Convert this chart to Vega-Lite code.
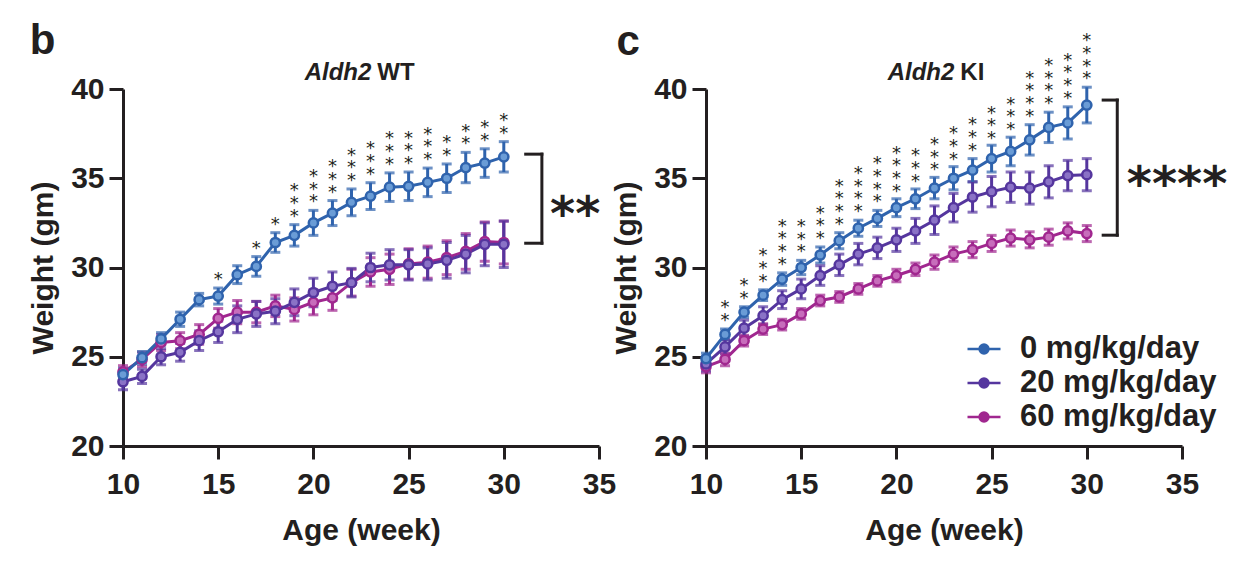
{
  "$schema": "https://vega.github.io/schema/vega-lite/v6.json",
  "padding": {"left": 28, "top": 20, "right": 5, "bottom": 5},
  "background": "white",
  "bounds": "flush",
  "spacing": 107,
  "config": {
    "view": {"stroke": null},
    "font": "Liberation Sans",
    "axis": {
      "grid": false,
      "domainColor": "#231f20",
      "domainWidth": 3,
      "tickColor": "#231f20",
      "tickWidth": 3,
      "labelFont": "Liberation Sans",
      "labelFontSize": 30,
      "labelFontWeight": "bold",
      "labelColor": "#231f20",
      "labelFlush": false,
      "titleFont": "Liberation Sans",
      "titleFontSize": 30,
      "titleFontWeight": "bold",
      "titleColor": "#231f20"
    },
    "axisX": {"tickSize": 13, "labelPadding": 10, "titlePadding": 16},
    "axisY": {"tickSize": 14, "labelPadding": 5, "titlePadding": 12}
  },
  "datasets": {
    "weights": [
      {"g":"WT","dose":"60 mg/kg/day","week":10,"mean":24.15,"sem":0.35},
      {"g":"WT","dose":"60 mg/kg/day","week":11,"mean":24.85,"sem":0.4},
      {"g":"WT","dose":"60 mg/kg/day","week":12,"mean":25.8,"sem":0.45},
      {"g":"WT","dose":"60 mg/kg/day","week":13,"mean":25.9,"sem":0.45},
      {"g":"WT","dose":"60 mg/kg/day","week":14,"mean":26.25,"sem":0.55},
      {"g":"WT","dose":"60 mg/kg/day","week":15,"mean":27.15,"sem":0.55},
      {"g":"WT","dose":"60 mg/kg/day","week":16,"mean":27.5,"sem":0.65},
      {"g":"WT","dose":"60 mg/kg/day","week":17,"mean":27.5,"sem":0.6},
      {"g":"WT","dose":"60 mg/kg/day","week":18,"mean":27.85,"sem":0.6},
      {"g":"WT","dose":"60 mg/kg/day","week":19,"mean":27.65,"sem":0.65},
      {"g":"WT","dose":"60 mg/kg/day","week":20,"mean":28.05,"sem":0.7},
      {"g":"WT","dose":"60 mg/kg/day","week":21,"mean":28.3,"sem":0.7},
      {"g":"WT","dose":"60 mg/kg/day","week":22,"mean":29.15,"sem":0.75},
      {"g":"WT","dose":"60 mg/kg/day","week":23,"mean":29.75,"sem":0.8},
      {"g":"WT","dose":"60 mg/kg/day","week":24,"mean":29.9,"sem":0.85},
      {"g":"WT","dose":"60 mg/kg/day","week":25,"mean":30.2,"sem":0.85},
      {"g":"WT","dose":"60 mg/kg/day","week":26,"mean":30.3,"sem":0.9},
      {"g":"WT","dose":"60 mg/kg/day","week":27,"mean":30.55,"sem":0.95},
      {"g":"WT","dose":"60 mg/kg/day","week":28,"mean":30.9,"sem":1.0},
      {"g":"WT","dose":"60 mg/kg/day","week":29,"mean":31.45,"sem":1.1},
      {"g":"WT","dose":"60 mg/kg/day","week":30,"mean":31.4,"sem":1.2},
      {"g":"WT","dose":"20 mg/kg/day","week":10,"mean":23.6,"sem":0.45},
      {"g":"WT","dose":"20 mg/kg/day","week":11,"mean":23.9,"sem":0.4},
      {"g":"WT","dose":"20 mg/kg/day","week":12,"mean":25.0,"sem":0.45},
      {"g":"WT","dose":"20 mg/kg/day","week":13,"mean":25.25,"sem":0.5},
      {"g":"WT","dose":"20 mg/kg/day","week":14,"mean":25.9,"sem":0.55},
      {"g":"WT","dose":"20 mg/kg/day","week":15,"mean":26.4,"sem":0.6},
      {"g":"WT","dose":"20 mg/kg/day","week":16,"mean":27.1,"sem":0.75},
      {"g":"WT","dose":"20 mg/kg/day","week":17,"mean":27.4,"sem":0.7},
      {"g":"WT","dose":"20 mg/kg/day","week":18,"mean":27.55,"sem":0.7},
      {"g":"WT","dose":"20 mg/kg/day","week":19,"mean":28.05,"sem":0.75},
      {"g":"WT","dose":"20 mg/kg/day","week":20,"mean":28.6,"sem":0.8},
      {"g":"WT","dose":"20 mg/kg/day","week":21,"mean":28.95,"sem":0.8},
      {"g":"WT","dose":"20 mg/kg/day","week":22,"mean":29.15,"sem":0.8},
      {"g":"WT","dose":"20 mg/kg/day","week":23,"mean":30.0,"sem":0.8},
      {"g":"WT","dose":"20 mg/kg/day","week":24,"mean":30.15,"sem":0.85},
      {"g":"WT","dose":"20 mg/kg/day","week":25,"mean":30.15,"sem":0.85},
      {"g":"WT","dose":"20 mg/kg/day","week":26,"mean":30.2,"sem":0.9},
      {"g":"WT","dose":"20 mg/kg/day","week":27,"mean":30.4,"sem":1.0},
      {"g":"WT","dose":"20 mg/kg/day","week":28,"mean":30.75,"sem":1.05},
      {"g":"WT","dose":"20 mg/kg/day","week":29,"mean":31.3,"sem":1.2},
      {"g":"WT","dose":"20 mg/kg/day","week":30,"mean":31.3,"sem":1.3},
      {"g":"WT","dose":"0 mg/kg/day","week":10,"mean":24.0,"sem":0.35},
      {"g":"WT","dose":"0 mg/kg/day","week":11,"mean":24.95,"sem":0.35},
      {"g":"WT","dose":"0 mg/kg/day","week":12,"mean":26.0,"sem":0.35},
      {"g":"WT","dose":"0 mg/kg/day","week":13,"mean":27.1,"sem":0.4},
      {"g":"WT","dose":"0 mg/kg/day","week":14,"mean":28.2,"sem":0.35},
      {"g":"WT","dose":"0 mg/kg/day","week":15,"mean":28.4,"sem":0.45},
      {"g":"WT","dose":"0 mg/kg/day","week":16,"mean":29.6,"sem":0.5},
      {"g":"WT","dose":"0 mg/kg/day","week":17,"mean":30.06,"sem":0.55},
      {"g":"WT","dose":"0 mg/kg/day","week":18,"mean":31.4,"sem":0.55},
      {"g":"WT","dose":"0 mg/kg/day","week":19,"mean":31.8,"sem":0.6},
      {"g":"WT","dose":"0 mg/kg/day","week":20,"mean":32.5,"sem":0.7},
      {"g":"WT","dose":"0 mg/kg/day","week":21,"mean":33.05,"sem":0.7},
      {"g":"WT","dose":"0 mg/kg/day","week":22,"mean":33.65,"sem":0.75},
      {"g":"WT","dose":"0 mg/kg/day","week":23,"mean":34.0,"sem":0.75},
      {"g":"WT","dose":"0 mg/kg/day","week":24,"mean":34.5,"sem":0.8},
      {"g":"WT","dose":"0 mg/kg/day","week":25,"mean":34.55,"sem":0.8},
      {"g":"WT","dose":"0 mg/kg/day","week":26,"mean":34.77,"sem":0.8},
      {"g":"WT","dose":"0 mg/kg/day","week":27,"mean":35.0,"sem":0.8},
      {"g":"WT","dose":"0 mg/kg/day","week":28,"mean":35.6,"sem":0.85},
      {"g":"WT","dose":"0 mg/kg/day","week":29,"mean":35.85,"sem":0.8},
      {"g":"WT","dose":"0 mg/kg/day","week":30,"mean":36.2,"sem":0.85},
      {"g":"KI","dose":"60 mg/kg/day","week":10,"mean":24.45,"sem":0.35},
      {"g":"KI","dose":"60 mg/kg/day","week":11,"mean":24.85,"sem":0.35},
      {"g":"KI","dose":"60 mg/kg/day","week":12,"mean":25.9,"sem":0.3},
      {"g":"KI","dose":"60 mg/kg/day","week":13,"mean":26.55,"sem":0.3},
      {"g":"KI","dose":"60 mg/kg/day","week":14,"mean":26.8,"sem":0.3},
      {"g":"KI","dose":"60 mg/kg/day","week":15,"mean":27.4,"sem":0.3},
      {"g":"KI","dose":"60 mg/kg/day","week":16,"mean":28.15,"sem":0.3},
      {"g":"KI","dose":"60 mg/kg/day","week":17,"mean":28.35,"sem":0.3},
      {"g":"KI","dose":"60 mg/kg/day","week":18,"mean":28.8,"sem":0.3},
      {"g":"KI","dose":"60 mg/kg/day","week":19,"mean":29.25,"sem":0.3},
      {"g":"KI","dose":"60 mg/kg/day","week":20,"mean":29.55,"sem":0.35},
      {"g":"KI","dose":"60 mg/kg/day","week":21,"mean":29.9,"sem":0.35},
      {"g":"KI","dose":"60 mg/kg/day","week":22,"mean":30.3,"sem":0.4},
      {"g":"KI","dose":"60 mg/kg/day","week":23,"mean":30.75,"sem":0.4},
      {"g":"KI","dose":"60 mg/kg/day","week":24,"mean":31.0,"sem":0.45},
      {"g":"KI","dose":"60 mg/kg/day","week":25,"mean":31.35,"sem":0.45},
      {"g":"KI","dose":"60 mg/kg/day","week":26,"mean":31.65,"sem":0.45},
      {"g":"KI","dose":"60 mg/kg/day","week":27,"mean":31.55,"sem":0.45},
      {"g":"KI","dose":"60 mg/kg/day","week":28,"mean":31.7,"sem":0.45},
      {"g":"KI","dose":"60 mg/kg/day","week":29,"mean":32.05,"sem":0.45},
      {"g":"KI","dose":"60 mg/kg/day","week":30,"mean":31.9,"sem":0.45},
      {"g":"KI","dose":"20 mg/kg/day","week":10,"mean":24.6,"sem":0.4},
      {"g":"KI","dose":"20 mg/kg/day","week":11,"mean":25.55,"sem":0.4},
      {"g":"KI","dose":"20 mg/kg/day","week":12,"mean":26.6,"sem":0.45},
      {"g":"KI","dose":"20 mg/kg/day","week":13,"mean":27.3,"sem":0.5},
      {"g":"KI","dose":"20 mg/kg/day","week":14,"mean":28.2,"sem":0.5},
      {"g":"KI","dose":"20 mg/kg/day","week":15,"mean":28.8,"sem":0.55},
      {"g":"KI","dose":"20 mg/kg/day","week":16,"mean":29.55,"sem":0.55},
      {"g":"KI","dose":"20 mg/kg/day","week":17,"mean":30.15,"sem":0.6},
      {"g":"KI","dose":"20 mg/kg/day","week":18,"mean":30.75,"sem":0.6},
      {"g":"KI","dose":"20 mg/kg/day","week":19,"mean":31.1,"sem":0.6},
      {"g":"KI","dose":"20 mg/kg/day","week":20,"mean":31.55,"sem":0.65},
      {"g":"KI","dose":"20 mg/kg/day","week":21,"mean":32.05,"sem":0.7},
      {"g":"KI","dose":"20 mg/kg/day","week":22,"mean":32.65,"sem":0.8},
      {"g":"KI","dose":"20 mg/kg/day","week":23,"mean":33.35,"sem":0.8},
      {"g":"KI","dose":"20 mg/kg/day","week":24,"mean":33.95,"sem":0.85},
      {"g":"KI","dose":"20 mg/kg/day","week":25,"mean":34.25,"sem":0.85},
      {"g":"KI","dose":"20 mg/kg/day","week":26,"mean":34.5,"sem":0.85},
      {"g":"KI","dose":"20 mg/kg/day","week":27,"mean":34.45,"sem":0.9},
      {"g":"KI","dose":"20 mg/kg/day","week":28,"mean":34.8,"sem":0.9},
      {"g":"KI","dose":"20 mg/kg/day","week":29,"mean":35.15,"sem":0.85},
      {"g":"KI","dose":"20 mg/kg/day","week":30,"mean":35.2,"sem":0.9},
      {"g":"KI","dose":"0 mg/kg/day","week":10,"mean":24.9,"sem":0.3},
      {"g":"KI","dose":"0 mg/kg/day","week":11,"mean":26.25,"sem":0.3},
      {"g":"KI","dose":"0 mg/kg/day","week":12,"mean":27.5,"sem":0.3},
      {"g":"KI","dose":"0 mg/kg/day","week":13,"mean":28.45,"sem":0.3},
      {"g":"KI","dose":"0 mg/kg/day","week":14,"mean":29.35,"sem":0.35},
      {"g":"KI","dose":"0 mg/kg/day","week":15,"mean":30.0,"sem":0.4},
      {"g":"KI","dose":"0 mg/kg/day","week":16,"mean":30.7,"sem":0.45},
      {"g":"KI","dose":"0 mg/kg/day","week":17,"mean":31.5,"sem":0.45},
      {"g":"KI","dose":"0 mg/kg/day","week":18,"mean":32.2,"sem":0.45},
      {"g":"KI","dose":"0 mg/kg/day","week":19,"mean":32.75,"sem":0.45},
      {"g":"KI","dose":"0 mg/kg/day","week":20,"mean":33.35,"sem":0.5},
      {"g":"KI","dose":"0 mg/kg/day","week":21,"mean":33.85,"sem":0.55},
      {"g":"KI","dose":"0 mg/kg/day","week":22,"mean":34.45,"sem":0.6},
      {"g":"KI","dose":"0 mg/kg/day","week":23,"mean":35.0,"sem":0.65},
      {"g":"KI","dose":"0 mg/kg/day","week":24,"mean":35.45,"sem":0.65},
      {"g":"KI","dose":"0 mg/kg/day","week":25,"mean":36.1,"sem":0.75},
      {"g":"KI","dose":"0 mg/kg/day","week":26,"mean":36.5,"sem":0.8},
      {"g":"KI","dose":"0 mg/kg/day","week":27,"mean":37.15,"sem":0.85},
      {"g":"KI","dose":"0 mg/kg/day","week":28,"mean":37.85,"sem":0.85},
      {"g":"KI","dose":"0 mg/kg/day","week":29,"mean":38.1,"sem":0.9},
      {"g":"KI","dose":"0 mg/kg/day","week":30,"mean":39.1,"sem":1.0}
    ],
    "stars": [
      {"g":"WT","week":15,"mean":28.85,"label":"*"},
      {"g":"WT","week":17,"mean":30.6,"label":"*"},
      {"g":"WT","week":18,"mean":31.95,"label":"*"},
      {"g":"WT","week":19,"mean":32.4,"label":"*\n*\n*"},
      {"g":"WT","week":20,"mean":33.2,"label":"*\n*\n*"},
      {"g":"WT","week":21,"mean":33.75,"label":"*\n*\n*"},
      {"g":"WT","week":22,"mean":34.4,"label":"*\n*\n*"},
      {"g":"WT","week":23,"mean":34.75,"label":"*\n*\n*"},
      {"g":"WT","week":24,"mean":35.3,"label":"*\n*\n*"},
      {"g":"WT","week":25,"mean":35.35,"label":"*\n*\n*"},
      {"g":"WT","week":26,"mean":35.57,"label":"*\n*\n*"},
      {"g":"WT","week":27,"mean":35.8,"label":"*\n*"},
      {"g":"WT","week":28,"mean":36.45,"label":"*\n*"},
      {"g":"WT","week":29,"mean":36.65,"label":"*\n*"},
      {"g":"WT","week":30,"mean":37.05,"label":"*\n*"},
      {"g":"KI","week":11,"mean":26.55,"label":"*\n*"},
      {"g":"KI","week":12,"mean":27.8,"label":"*\n*"},
      {"g":"KI","week":13,"mean":28.75,"label":"*\n*\n*"},
      {"g":"KI","week":14,"mean":29.7,"label":"*\n*\n*\n*"},
      {"g":"KI","week":15,"mean":30.4,"label":"*\n*\n*"},
      {"g":"KI","week":16,"mean":31.15,"label":"*\n*\n*"},
      {"g":"KI","week":17,"mean":31.95,"label":"*\n*\n*\n*"},
      {"g":"KI","week":18,"mean":32.65,"label":"*\n*\n*\n*"},
      {"g":"KI","week":19,"mean":33.2,"label":"*\n*\n*\n*"},
      {"g":"KI","week":20,"mean":33.8,"label":"*\n*\n*\n*"},
      {"g":"KI","week":21,"mean":34.35,"label":"*\n*\n*"},
      {"g":"KI","week":22,"mean":35.0,"label":"*\n*\n*"},
      {"g":"KI","week":23,"mean":35.6,"label":"*\n*\n*"},
      {"g":"KI","week":24,"mean":36.1,"label":"*\n*\n*"},
      {"g":"KI","week":25,"mean":36.75,"label":"*\n*\n*"},
      {"g":"KI","week":26,"mean":37.25,"label":"*\n*\n*"},
      {"g":"KI","week":27,"mean":38.0,"label":"*\n*\n*\n*"},
      {"g":"KI","week":28,"mean":38.7,"label":"*\n*\n*\n*"},
      {"g":"KI","week":29,"mean":39.0,"label":"*\n*\n*\n*"},
      {"g":"KI","week":30,"mean":40.1,"label":"*\n*\n*\n*"}
    ],
    "brackets": [
      {"g":"WT","week":31.15,"week2":32.0,"mean":36.35,"mean2":36.35},
      {"g":"WT","week":32.0,"week2":32.0,"mean":36.35,"mean2":31.36},
      {"g":"WT","week":31.15,"week2":32.0,"mean":31.36,"mean2":31.36},
      {"g":"KI","week":30.86,"week2":31.6,"mean":39.38,"mean2":39.38},
      {"g":"KI","week":31.6,"week2":31.6,"mean":39.38,"mean2":31.81},
      {"g":"KI","week":30.86,"week2":31.6,"mean":31.81,"mean2":31.81}
    ],
    "notes": [
      {"g":"WT","kind":"sig","week":33.75,"mean":33.66,"label":"**"},
      {"g":"KI","kind":"sig","week":34.74,"mean":35.37,"label":"****"},
      {"g":"WT","kind":"gene","week":23.2,"mean":40.5,"label":"Aldh2"},
      {"g":"WT","kind":"geno","week":23.2,"mean":40.5,"label":"WT"},
      {"g":"KI","kind":"gene","week":23.2,"mean":40.5,"label":"Aldh2"},
      {"g":"KI","kind":"geno","week":23.2,"mean":40.5,"label":"KI"},
      {"g":"WT","kind":"letter","week":5.1,"mean":41.96,"label":"b"},
      {"g":"KI","kind":"letter","week":5.3,"mean":41.9,"label":"c"}
    ]
  },
  "resolve": {
    "scale": {"color": "independent", "fill": "independent", "stroke": "independent"},
    "legend": {"color": "independent", "fill": "independent", "stroke": "independent"}
  },
  "hconcat": [
    {
      "width": 476,
      "height": 357,
      "encoding": {
        "x": {"field": "week", "type": "quantitative", "scale": {"domain": [10, 35], "nice": false, "zero": false},
              "axis": {"title": "Age (week)", "values": [10, 15, 20, 25, 30, 35]}},
        "y": {"field": "mean", "type": "quantitative", "scale": {"domain": [20, 40], "nice": false, "zero": false},
              "axis": {"title": "Weight (gm)", "values": [20, 25, 30, 35, 40]}}
      },
      "layer": [
        {
          "data": {"name": "weights"},
          "transform": [{"filter": {"field": "g", "equal": "WT"}}],
          "mark": {"type": "errorbar", "ticks": true, "thickness": 3, "size": 10},
          "encoding": {
            "yError": {"field": "sem"},
            "color": {"field": "dose", "type": "nominal", "scale": {"domain": ["0 mg/kg/day", "20 mg/kg/day", "60 mg/kg/day"], "range": ["#2f63ad", "#55369e", "#a0278f"]}, "legend": null}
          }
        },
        {
          "data": {"name": "weights"},
          "transform": [{"filter": {"field": "g", "equal": "WT"}}],
          "mark": {"type": "line", "strokeWidth": 3},
          "encoding": {
            "color": {"field": "dose", "type": "nominal", "scale": {"domain": ["0 mg/kg/day", "20 mg/kg/day", "60 mg/kg/day"], "range": ["#2f63ad", "#55369e", "#a0278f"]}, "legend": null}
          }
        },
        {
          "data": {"name": "weights"},
          "transform": [{"filter": {"field": "g", "equal": "WT"}}],
          "mark": {"type": "point", "shape": "circle", "size": 85, "strokeWidth": 2.5, "opacity": 1, "fillOpacity": 1},
          "encoding": {
            "fill": {"field": "dose", "type": "nominal", "scale": {"domain": ["0 mg/kg/day", "20 mg/kg/day", "60 mg/kg/day"], "range": ["#6a9cd6", "#8a72c6", "#c76dbb"]}, "legend": null},
            "stroke": {"field": "dose", "type": "nominal", "scale": {"domain": ["0 mg/kg/day", "20 mg/kg/day", "60 mg/kg/day"], "range": ["#2f63ad", "#55369e", "#a0278f"]}, "legend": null}
          }
        },
        {
          "data": {"name": "stars"},
          "transform": [{"filter": {"field": "g", "equal": "WT"}}],
          "encoding": {"text": {"field": "label"}},
          "layer": [
            {"transform": [{"filter": "length(datum.label) === 1"}],
             "mark": {"type": "text", "font": "DejaVu Sans", "fontSize": 18, "lineBreak": "\n", "lineHeight": 12.7, "baseline": "bottom", "dy": 1, "color": "#231f20"}},
            {"transform": [{"filter": "length(datum.label) === 3"}],
             "mark": {"type": "text", "font": "DejaVu Sans", "fontSize": 18, "lineBreak": "\n", "lineHeight": 12.7, "baseline": "bottom", "dy": -11.7, "color": "#231f20"}},
            {"transform": [{"filter": "length(datum.label) === 5"}],
             "mark": {"type": "text", "font": "DejaVu Sans", "fontSize": 18, "lineBreak": "\n", "lineHeight": 12.7, "baseline": "bottom", "dy": -24.4, "color": "#231f20"}},
            {"transform": [{"filter": "length(datum.label) === 7"}],
             "mark": {"type": "text", "font": "DejaVu Sans", "fontSize": 18, "lineBreak": "\n", "lineHeight": 12.7, "baseline": "bottom", "dy": -37.1, "color": "#231f20"}}
          ]
        },
        {
          "data": {"name": "brackets"},
          "transform": [{"filter": {"field": "g", "equal": "WT"}}],
          "mark": {"type": "rule", "strokeWidth": 3, "strokeCap": "square", "color": "#231f20"},
          "encoding": {"x2": {"field": "week2"}, "y2": {"field": "mean2"}}
        },
        {
          "data": {"name": "notes"},
          "transform": [{"filter": "datum.g === 'WT' && datum.kind === 'sig'"}],
          "mark": {"type": "text", "font": "DejaVu Sans", "fontWeight": "bold", "fontSize": 48, "baseline": "alphabetic", "dy": 28, "color": "#231f20"},
          "encoding": {"text": {"field": "label"}}
        },
        {
          "data": {"name": "notes"},
          "transform": [{"filter": "datum.g === 'WT' && datum.kind === 'gene'"}],
          "mark": {"type": "text", "fontSize": 24, "fontStyle": "italic", "fontWeight": "bold", "align": "right", "baseline": "alphabetic", "dx": -3, "color": "#231f20"},
          "encoding": {"text": {"field": "label"}}
        },
        {
          "data": {"name": "notes"},
          "transform": [{"filter": "datum.g === 'WT' && datum.kind === 'geno'"}],
          "mark": {"type": "text", "fontSize": 24, "fontWeight": "bold", "align": "left", "baseline": "alphabetic", "dx": 3, "color": "#231f20"},
          "encoding": {"text": {"field": "label"}}
        },
        {
          "data": {"name": "notes"},
          "transform": [{"filter": "datum.g === 'WT' && datum.kind === 'letter'"}],
          "mark": {"type": "text", "fontSize": 42, "fontWeight": "bold", "align": "left", "baseline": "alphabetic", "color": "#231f20"},
          "encoding": {"text": {"field": "label"}}
        }
      ]
    },
    {
      "width": 476,
      "height": 357,
      "encoding": {
        "x": {"field": "week", "type": "quantitative", "scale": {"domain": [10, 35], "nice": false, "zero": false},
              "axis": {"title": "Age (week)", "values": [10, 15, 20, 25, 30, 35]}},
        "y": {"field": "mean", "type": "quantitative", "scale": {"domain": [20, 40], "nice": false, "zero": false},
              "axis": {"title": "Weight (gm)", "values": [20, 25, 30, 35, 40]}}
      },
      "layer": [
        {
          "data": {"name": "weights"},
          "transform": [{"filter": {"field": "g", "equal": "KI"}}],
          "mark": {"type": "errorbar", "ticks": true, "thickness": 3, "size": 10},
          "encoding": {
            "yError": {"field": "sem"},
            "color": {"field": "dose", "type": "nominal", "scale": {"domain": ["0 mg/kg/day", "20 mg/kg/day", "60 mg/kg/day"], "range": ["#2f63ad", "#55369e", "#a0278f"]}}
          }
        },
        {
          "data": {"name": "weights"},
          "transform": [{"filter": {"field": "g", "equal": "KI"}}],
          "mark": {"type": "line", "strokeWidth": 3},
          "encoding": {
            "color": {"field": "dose", "type": "nominal", "scale": {"domain": ["0 mg/kg/day", "20 mg/kg/day", "60 mg/kg/day"], "range": ["#2f63ad", "#55369e", "#a0278f"]},
                      "legend": {"orient": "none", "legendX": 260, "legendY": 242, "title": null, "padding": 0,
                                 "symbolType": "M-1,0H-0.27M0.27,0H1M0.27,0A0.27,0.27,0,1,1,-0.27,0A0.27,0.27,0,1,1,0.27,0Z",
                                 "symbolSize": 1089, "symbolStrokeWidth": 2.5, "labelFont": "Liberation Sans", "labelFontSize": 31,
                                 "labelFontWeight": "bold", "labelColor": "#231f20", "labelOffset": 18, "rowPadding": 1, "labelLimit": 400,
                                 "encode": {"symbols": {"update": {
                                   "fill": {"signal": "datum.value === '0 mg/kg/day' ? '#6a9cd6' : datum.value === '20 mg/kg/day' ? '#8a72c6' : '#c76dbb'"},
                                   "fillOpacity": {"value": 1},
                                   "opacity": {"value": 1},
                                   "strokeWidth": {"value": 2.5}}}}}}
          }
        },
        {
          "data": {"name": "weights"},
          "transform": [{"filter": {"field": "g", "equal": "KI"}}],
          "mark": {"type": "point", "shape": "circle", "size": 85, "strokeWidth": 2.5, "opacity": 1, "fillOpacity": 1},
          "encoding": {
            "fill": {"field": "dose", "type": "nominal", "scale": {"domain": ["0 mg/kg/day", "20 mg/kg/day", "60 mg/kg/day"], "range": ["#6a9cd6", "#8a72c6", "#c76dbb"]}, "legend": null},
            "stroke": {"field": "dose", "type": "nominal", "scale": {"domain": ["0 mg/kg/day", "20 mg/kg/day", "60 mg/kg/day"], "range": ["#2f63ad", "#55369e", "#a0278f"]}, "legend": null}
          }
        },
        {
          "data": {"name": "stars"},
          "transform": [{"filter": {"field": "g", "equal": "KI"}}],
          "encoding": {"text": {"field": "label"}},
          "layer": [
            {"transform": [{"filter": "length(datum.label) === 1"}],
             "mark": {"type": "text", "font": "DejaVu Sans", "fontSize": 18, "lineBreak": "\n", "lineHeight": 12.7, "baseline": "bottom", "dy": 1, "color": "#231f20"}},
            {"transform": [{"filter": "length(datum.label) === 3"}],
             "mark": {"type": "text", "font": "DejaVu Sans", "fontSize": 18, "lineBreak": "\n", "lineHeight": 12.7, "baseline": "bottom", "dy": -11.7, "color": "#231f20"}},
            {"transform": [{"filter": "length(datum.label) === 5"}],
             "mark": {"type": "text", "font": "DejaVu Sans", "fontSize": 18, "lineBreak": "\n", "lineHeight": 12.7, "baseline": "bottom", "dy": -24.4, "color": "#231f20"}},
            {"transform": [{"filter": "length(datum.label) === 7"}],
             "mark": {"type": "text", "font": "DejaVu Sans", "fontSize": 18, "lineBreak": "\n", "lineHeight": 12.7, "baseline": "bottom", "dy": -37.1, "color": "#231f20"}}
          ]
        },
        {
          "data": {"name": "brackets"},
          "transform": [{"filter": {"field": "g", "equal": "KI"}}],
          "mark": {"type": "rule", "strokeWidth": 3, "strokeCap": "square", "color": "#231f20"},
          "encoding": {"x2": {"field": "week2"}, "y2": {"field": "mean2"}}
        },
        {
          "data": {"name": "notes"},
          "transform": [{"filter": "datum.g === 'KI' && datum.kind === 'sig'"}],
          "mark": {"type": "text", "font": "DejaVu Sans", "fontWeight": "bold", "fontSize": 48, "baseline": "alphabetic", "dy": 28, "color": "#231f20"},
          "encoding": {"text": {"field": "label"}}
        },
        {
          "data": {"name": "notes"},
          "transform": [{"filter": "datum.g === 'KI' && datum.kind === 'gene'"}],
          "mark": {"type": "text", "fontSize": 24, "fontStyle": "italic", "fontWeight": "bold", "align": "right", "baseline": "alphabetic", "dx": -3, "color": "#231f20"},
          "encoding": {"text": {"field": "label"}}
        },
        {
          "data": {"name": "notes"},
          "transform": [{"filter": "datum.g === 'KI' && datum.kind === 'geno'"}],
          "mark": {"type": "text", "fontSize": 24, "fontWeight": "bold", "align": "left", "baseline": "alphabetic", "dx": 3, "color": "#231f20"},
          "encoding": {"text": {"field": "label"}}
        },
        {
          "data": {"name": "notes"},
          "transform": [{"filter": "datum.g === 'KI' && datum.kind === 'letter'"}],
          "mark": {"type": "text", "fontSize": 42, "fontWeight": "bold", "align": "left", "baseline": "alphabetic", "color": "#231f20"},
          "encoding": {"text": {"field": "label"}}
        }
      ]
    }
  ]
}
